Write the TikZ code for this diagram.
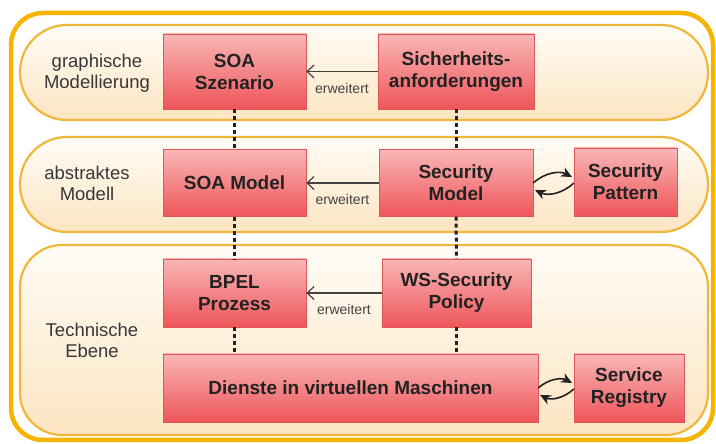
\documentclass[tikz,border=0pt]{standalone}
\usepackage{fontspec}
\setmainfont{Liberation Sans}
\usetikzlibrary{positioning,arrows.meta,calc}
\definecolor{rim}{HTML}{F6B400}
\definecolor{laneline}{HTML}{F0B83A}
\definecolor{lanetop}{HTML}{FFFCF6}
\definecolor{lanebot}{HTML}{FCE5C2}
\definecolor{boxtop}{HTML}{F9B6B6}
\definecolor{boxbot}{HTML}{EE5559}
\definecolor{boxline}{HTML}{E0575B}
\definecolor{ink}{HTML}{222222}
\tikzset{
  box/.style={rectangle,draw=boxline,top color=boxtop,bottom color=boxbot,
    align=center,font=\fontsize{19}{22}\selectfont\bfseries,text=ink,inner sep=2pt},
  lane/.style={draw=laneline,line width=2.2pt,top color=lanetop,bottom color=lanebot},
  lbl/.style={align=center,font=\fontsize{18.5}{21}\selectfont,text=ink!90},
  ew/.style={font=\fontsize{14}{16}\selectfont,text=ink!85,inner sep=1pt},
  ext/.style={-{Straight Barb[length=7pt,width=13pt]},draw=ink!85,line width=1.2pt},
  dotl/.style={draw=ink,line width=3pt,dash pattern=on 4pt off 3pt},
  cyc/.style={-{Stealth[length=11pt,width=10pt]},draw=ink,line width=1.6pt,shorten >=2pt},
}
\begin{document}
\begin{tikzpicture}[x=1pt,y=1pt]
  \useasboundingbox (0,0) rectangle (716,444);
  % frame and the three levels
  \draw[rim,line width=4.5pt,rounded corners=32pt,fill=white] (11,4) rectangle (713,431);
  \draw[lane,rounded corners=47pt] (20,324) rectangle (708,419);
  \draw[lane,rounded corners=47pt] (20,212) rectangle (708,307);
  \draw[lane,rounded corners=42pt] (20,9) rectangle (708,199);
  \node[lbl] (l1) at (97,371) {graphische\\Modellierung};
  \node[lbl] (l2) at (87,261) {abstraktes\\Modell};
  \node[lbl] (l3) at (92,104) {Technische\\Ebene};
  % boxes
  \node[box,minimum width=143pt,minimum height=75pt] (soasz) at (234.5,372.5) {SOA\\Szenario};
  \node[box,minimum width=156pt,minimum height=75pt] (sich) at (456,372.5) {Sicherheits-\\anforderungen};
  \node[box,minimum width=143pt,minimum height=67pt] (soam) at (234.5,261) {SOA Model};
  \node[box,minimum width=154pt,minimum height=67pt] (secm) at (456,261) {Security\\Model};
  \node[box,minimum width=103pt,minimum height=68pt] (secp) at (625.5,262) {Security\\Pattern};
  \node[box,minimum width=143pt,minimum height=68pt] (bpel) at (234.5,151) {BPEL\\Prozess};
  \node[box,minimum width=149pt,minimum height=68pt] (wssp) at (456.5,151) {WS-Security\\Policy};
  \node[box,minimum width=375pt,minimum height=68pt] (dienste) at (350.5,56) {Dienste in virtuellen Maschinen};
  \node[box,minimum width=110pt,minimum height=68pt] (sreg) at (629,56) {Service\\Registry};
  % connectors
  \draw[ext] (sich) -- node[ew,below=10pt] {erweitert} (soasz);
  \draw[ext] (secm) -- node[ew,below=10pt] {erweitert} (soam);
  \draw[ext] (wssp) -- node[ew,below=10pt] {erweitert} (bpel);
  \draw[dotl] (soasz) -- (soam); \draw[dotl] (soam) -- (bpel);
  \draw[dotl] (sich) -- (secm); \draw[dotl] (secm) -- (wssp);
  \draw[dotl] (bpel) -- (bpel |- dienste.north);
  \draw[dotl] (wssp) -- (wssp |- dienste.north);
  \draw[cyc] (secm.east) to[bend left=35] ([yshift=4pt]secp.west);
  \draw[cyc] ([yshift=-1pt]secp.west) to[bend left=35] ([yshift=-6pt]secm.east);
  \draw[cyc] (dienste.east) to[bend left=35] ([yshift=4pt]sreg.west);
  \draw[cyc] ([yshift=-1pt]sreg.west) to[bend left=35] ([yshift=-6pt]dienste.east);
\end{tikzpicture}
\end{document}
